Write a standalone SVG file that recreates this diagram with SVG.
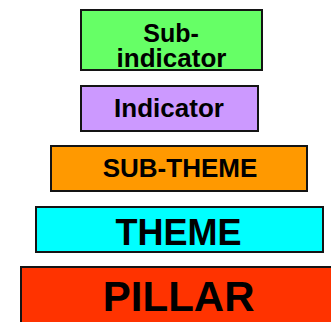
<svg xmlns="http://www.w3.org/2000/svg" width="331" height="322" viewBox="0 0 331 322">
<style>
.box{stroke:#141414;stroke-width:2}
.t{font-family:"Liberation Sans",Arial,sans-serif;font-weight:bold;fill:#000;text-anchor:middle}
</style>
<rect width="331" height="322" fill="#fff"/>
<g id="connectors"></g>
<g id="sub-indicator">
<rect class="box" x="81" y="10" width="181" height="60" fill="#66FF66"/>
<text class="t" x="171" y="41.5" font-size="25">Sub-</text>
<text class="t" x="171.5" y="66.5" font-size="26">indicator</text>
</g>
<g id="indicator">
<rect class="box" x="81" y="86" width="177" height="45" fill="#CC99FF"/>
<text class="t" x="169" y="116.5" font-size="26">Indicator</text>
</g>
<g id="sub-theme">
<rect class="box" x="51" y="146" width="256" height="45" fill="#FF9900"/>
<text class="t" x="180" y="176.5" font-size="26">SUB-THEME</text>
</g>
<g id="theme">
<rect class="box" x="36" y="207" width="287" height="45" fill="#00FFFF"/>
<text class="t" x="178.5" y="245" font-size="36">THEME</text>
</g>
<g id="pillar">
<rect class="box" x="21" y="267" width="320" height="70" fill="#FF3300"/>
<text class="t" x="178.7" y="311" font-size="42">PILLAR</text>
</g>
</svg>
